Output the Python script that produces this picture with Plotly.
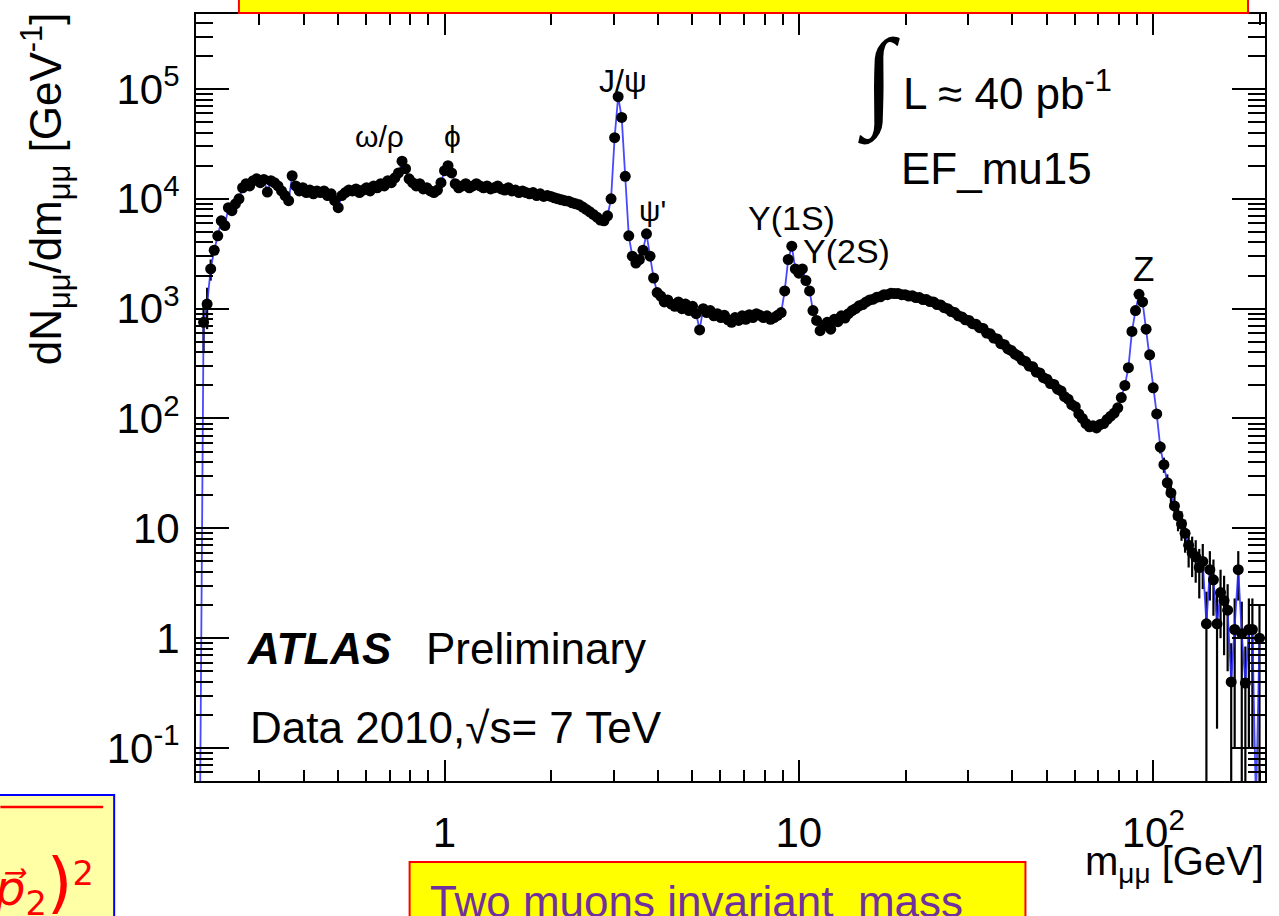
import plotly.graph_objects as go

# ---------------- data ----------------
# bin centres (GeV) and dN/dm (GeV^-1)
mass_low = [0.1995,0.2042,0.2089,0.2138,0.2188,0.2239,0.2291,0.2344,0.2399,0.2455,
            0.2512,0.2570,0.2630,0.2692,0.2754,0.2818,0.2884,0.2951,0.3020,0.3090,
            0.3162,0.3236,0.3311,0.3388,0.3467,0.3548,0.3631,0.3715,0.3802,0.3890,
            0.3981,0.4074,0.4169,0.4266,0.4365,0.4467,0.4571,0.4677,0.4786,0.4898,
            0.5012,0.5129,0.5248,0.5370,0.5495,0.5623,0.5754,0.5888,0.6026,0.6166,
            0.6310,0.6457,0.6607,0.6761,0.6918,0.7079,0.7244,0.7413,0.7586,0.7762,
            0.7943,0.8128,0.8318,0.8511,0.8710,0.8913,0.9120,0.9333,0.9550,0.9772]
dndm_low = [0.02,0.03,750,1100,2300,3400,4600,6300,5700,8300,
            7800,9000,10000,12600,13700,13100,14600,15200,14000,15000,
            11500,14600,14000,13100,11800,10700,9600,16200,13100,11800,
            12600,11400,12000,11100,11800,11400,11800,10700,11100,9600,
            8300,10700,11400,12000,11800,12300,11400,12000,12600,11800,
            13100,12600,13700,13100,14600,14000,15500,17200,22000,18800,
            15200,14000,13100,13700,12300,12600,11800,11400,12000,14000]
err_low = [0, 0, 350, 450, 500] + [0] * 65

mass_mid = [1.000,1.023,1.047,1.072,1.096,1.122,1.148,1.175,1.202,1.230,
            1.259,1.288,1.318,1.349,1.380,1.413,1.445,1.479,1.514,1.549,
            1.585,1.622,1.660,1.698,1.738,1.778,1.820,1.862,1.905,1.950,
            1.995,2.042,2.089,2.138,2.188,2.239,2.291,2.344,2.399,2.455,
            2.512,2.570,2.630,2.692,2.754,2.818,2.884,2.951,3.020,3.090,
            3.162,3.236,3.311,3.388,3.467,3.548,3.631,3.715,3.802,3.890,
            3.981,4.074,4.169,4.266,4.365,4.467,4.571,4.677,4.786,4.898,
            5.012,5.129,5.248,5.370,5.495,5.623,5.754,5.888,6.026,6.166,
            6.310,6.457,6.607,6.761,6.918,7.079,7.244,7.413,7.586,7.762,
            7.943,8.128,8.318,8.511,8.710,8.913,9.120,9.333,9.550,9.772]
dndm_mid = [18000,20000,17200,13700,12600,13100,13700,12600,13100,13700,
            13100,12600,13100,12300,12600,13100,12300,12000,12600,11800,
            12000,11400,11800,11400,11100,11400,10700,11100,10500,10700,
            10500,10200,10000,9800,9600,9500,9200,9000,8800,8400,
            8000,7600,7200,6800,6400,6300,7000,10000,36000,85000,
            55000,16000,4600,3000,2600,2800,3400,4800,3000,1900,
            1400,1300,1150,1200,1100,1050,1150,1000,1100,960,
            1050,900,640,1000,920,960,860,900,830,870,
            790,750,830,780,860,800,880,830,900,870,
            830,860,800,830,870,920,1450,2800,3700,2300]

mass_high = [10.00,10.23,10.47,10.72,10.96,11.22,11.48,11.75,12.02,12.30,
             12.59,12.88,13.18,13.49,13.80,14.13,14.45,14.79,15.14,15.49,
             15.85,16.22,16.60,16.98,17.38,17.78,18.20,18.62,19.05,19.50,
             19.95,20.42,20.89,21.38,21.88,22.39,22.91,23.44,23.99,24.55,
             25.12,25.70,26.30,26.92,27.54,28.18,28.84,29.51,30.20,30.90,
             31.62,32.36,33.11,33.88,34.67,35.48,36.31,37.15,38.02,38.90,
             39.81,40.74,41.69,42.66,43.65,44.67,45.71,46.77,47.86,48.98,
             50.12,51.29,52.48,53.70,54.95,56.23,57.54,58.88,60.26,61.66,
             63.10,64.57,66.07,67.61,69.18,70.79,72.44,74.13,75.86,77.62,
             79.43,81.28,83.18,85.11,87.10,89.13,91.20,93.33,95.50,97.72]
dndm_high = [2100,2300,1800,1450,960,780,630,700,750,650,
             800,760,860,820,900,960,1000,1060,1090,1150,
             1200,1220,1270,1280,1340,1340,1380,1370,1370,1340,
             1340,1300,1310,1260,1260,1210,1210,1160,1150,1090,
             1080,1020,1000,940,920,860,840,790,780,730,
             720,670,660,600,590,540,530,480,470,430,
             415,385,370,340,330,300,295,265,260,235,
             228,208,204,185,178,158,150,134,128,110,
             100,90,84,86,82,88,90,98,105,112,
             125,155,200,290,620,960,1350,1150,650,380]

mass_tail = [100.0,102.3,104.7,107.2,109.6,112.2,114.8,117.5,120.2,123.0,
             125.9,128.8,131.8,134.9,138.0,141.3,144.5,147.9,151.4,154.9,
             158.5,162.2,166.0,169.8,173.8,177.8,182.0,186.2,190.5,195.0,
             199.5]
dndm_tail = [190,110,55,38,26,21,16,13,11,9,
             7,6.0,5.5,4.4,5.0,1.35,4.2,3.4,1.35,2.6,
             2.2,1.8,0.4,1.2,4.2,1.1,0.39,1.2,1.2,0.03,
             1.0]
err_tail = [15,10,7,6,5,4.5,4,3.6,3.3,3,
            2.6,2.4,2.3,2.1,2.2,1.3,2.0,1.8,1.2,1.6,
            1.5,1.3,0.5,1.1,2.0,1.05,0.45,1.1,1.1,0,
            1.0]

peak_labels = ["ω/ρ", "ϕ", "J/ψ", "ψ'", "Υ(1S)", "Υ(2S)", "Z"]

y_tickvals = [0.1, 1, 10, 100, 1e3, 1e4, 1e5]
y_ticktext = ["10<sup>-1</sup>", "1", "10", "10<sup>2</sup>", "10<sup>3</sup>",
              "10<sup>4</sup>", "10<sup>5</sup>"]
x_tickvals = [1, 10, 100]
x_ticktext = ["1", "10", "10<sup>2</sup>"]

# ---------------- assemble ----------------
mass = mass_low + mass_mid + mass_high + mass_tail
dndm = dndm_low + dndm_mid + dndm_high + dndm_tail
err = err_low + [0] * len(mass_mid) + [0] * len(mass_high) + err_tail

FONT = "Liberation Sans, Arial, Helvetica, sans-serif"
W, H = 1279, 916
L, R, T, B = 196, 1267, 13, 781


def px(x):
    return (x - L) / (R - L)


def py(y):
    return (B - y) / (B - T)


fig = go.Figure()
fig.add_trace(go.Scatter(
    x=mass, y=dndm, mode="lines+markers",
    line=dict(color="rgba(40,40,255,0.85)", width=1.8),
    marker=dict(color="black", size=11, line=dict(width=0)),
    error_y=dict(type="data", array=err, visible=True, color="black",
                 thickness=2.2, width=0),
    showlegend=False, hoverinfo="x+y",
))

y_minor = [d * 10 ** e for e in range(-2, 6) for d in range(2, 10)]
x_minor = [d * 10 ** e for e in range(-1, 3) for d in range(2, 10)]

axis_common = dict(showline=True, linewidth=2, linecolor="black", mirror="allticks",
                   ticks="inside", tickwidth=2, tickcolor="black", showgrid=False,
                   zeroline=False, type="log",
                   tickfont=dict(family=FONT, size=42, color="black"))

fig.update_xaxes(**axis_common, range=[-0.7014, 2.3155], tickmode="array",
                 tickvals=x_tickvals, ticktext=x_ticktext, ticklen=21,
                 ticklabelstandoff=14,
                 minor=dict(tickmode="array", tickvals=x_minor, ticks="inside",
                            ticklen=11, tickwidth=2, tickcolor="black", showgrid=False))
fig.update_yaxes(**axis_common, range=[-1.30, 5.682], tickmode="array",
                 tickvals=y_tickvals, ticktext=y_ticktext, ticklen=33,
                 ticklabelstandoff=6,
                 minor=dict(tickmode="array", tickvals=y_minor, ticks="inside",
                            ticklen=17, tickwidth=2, tickcolor="black", showgrid=False))

ann = []


def add_text(text, x, y, size, xanchor="center", yanchor="middle", color="black",
             family=FONT, angle=0):
    ann.append(dict(text=text, x=px(x), y=py(y), xref="paper", yref="paper",
                    xanchor=xanchor, yanchor=yanchor, showarrow=False, textangle=angle,
                    font=dict(family=family, size=size, color=color)))


# peak labels
peak_pos = [(380, 136, 30), (453, 136, 30), (624, 80, 32), (653, 210, 30),
            (793, 217, 34), (848, 250, 34), (1145, 268, 35)]
for lab, (x, y, s) in zip(peak_labels, peak_pos):
    add_text(lab, x, y, s)

# luminosity / trigger
add_text("∫", 880, 80, 110, family="Liberation Serif, DejaVu Serif, serif")
add_text("L ≈ 40 pb<sup>-1</sup>", 902, 90, 44, xanchor="left")
add_text("EF_mu15", 900, 168, 44, xanchor="left")
# ATLAS labels
add_text("<b><i>ATLAS</i></b>", 245, 648, 44, xanchor="left")
add_text("Preliminary", 424, 648, 44, xanchor="left")
add_text("Data 2010,√s= 7 TeV", 248, 727, 44, xanchor="left")
# axis titles
add_text("dN<sub>μμ</sub>/dm<sub>μμ</sub> [GeV<sup>-1</sup>]", 45, 367, 44,
         yanchor="bottom", angle=-90)
add_text("m<sub>μμ</sub> [GeV]", 1268, 864, 40, xanchor="right")
# slide overlays (cut by the picture frame)
add_text("Two muons invariant\u00a0 mass", 428, 902, 44, xanchor="left", color="#7030a0")
add_text("<i>p⃗</i><sub>2</sub><span style='font-size:66px'>)</span><sup>2</sup>",
         96, 884, 48, xanchor="right", color="#ff0000",
         family="DejaVu Sans, Liberation Sans, sans-serif")

shapes = [
    dict(type="rect", xref="paper", yref="paper", x0=px(239), x1=px(1250),
         y0=py(12), y1=py(-10), fillcolor="#ffff00", line=dict(color="#ff0000", width=2),
         layer="above"),
    dict(type="rect", xref="paper", yref="paper", x0=px(-10), x1=px(114),
         y0=py(930), y1=py(795), fillcolor="#ffffa6", line=dict(color="#0000ff", width=2),
         layer="below"),
    dict(type="line", xref="paper", yref="paper", x0=px(0), x1=px(103),
         y0=py(807), y1=py(807), line=dict(color="#ff0000", width=2.5)),
    dict(type="rect", xref="paper", yref="paper", x0=px(410), x1=px(1027),
         y0=py(930), y1=py(862), fillcolor="#ffff00", line=dict(color="#ff0000", width=2),
         layer="below"),
]

fig.update_layout(width=W, height=H, margin=dict(l=L, r=W - R, t=T, b=H - B),
                  paper_bgcolor="white", plot_bgcolor="white",
                  annotations=ann, shapes=shapes, showlegend=False)

fig.write_html("out.html")
